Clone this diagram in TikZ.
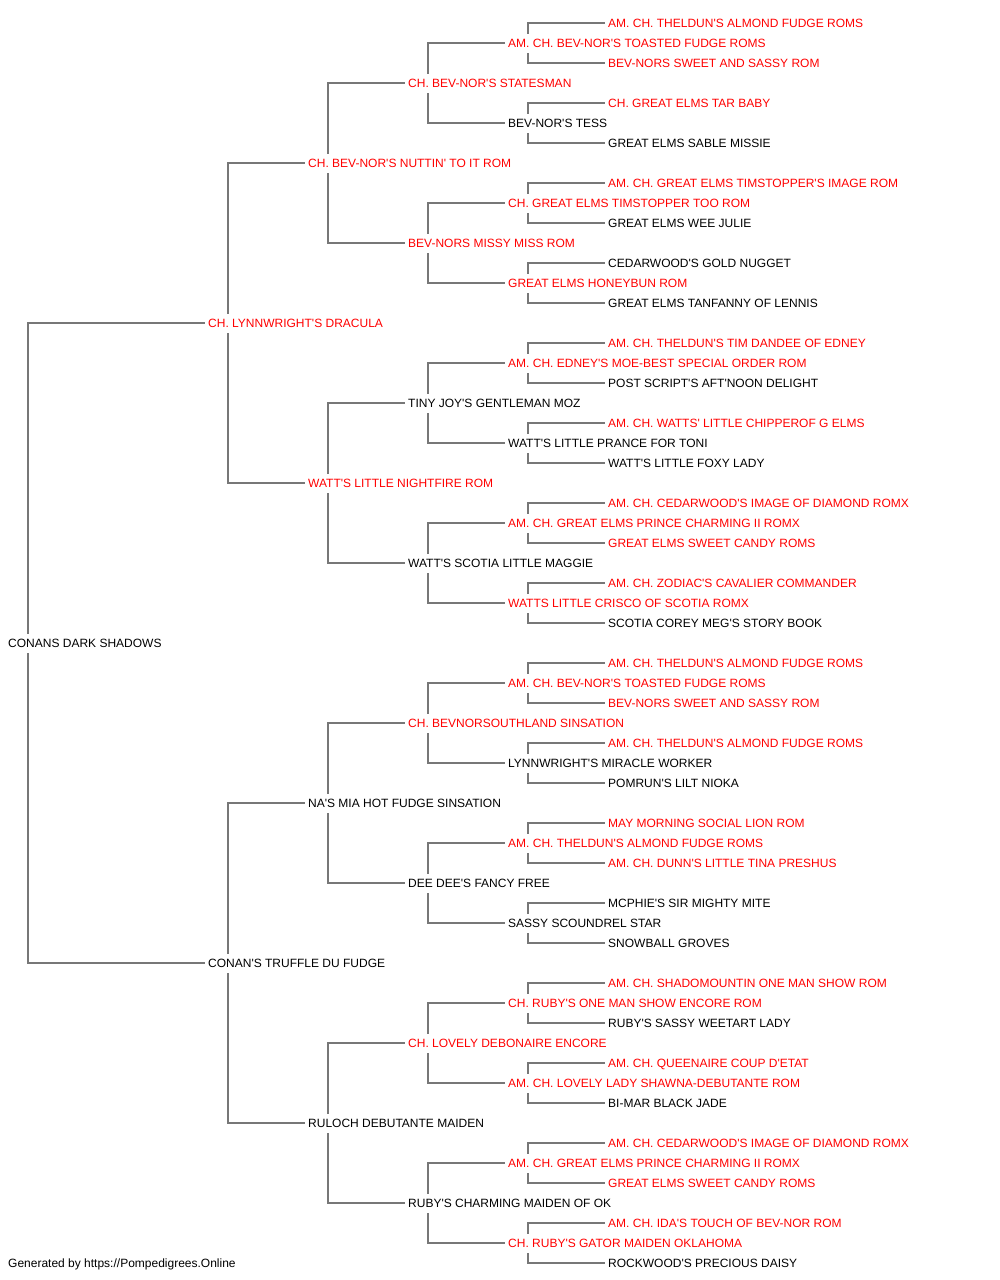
\documentclass[tikz,border=0pt]{standalone}
\usepackage{fontspec}
\newfontfamily\pedfont{Liberation Sans}
\usetikzlibrary{calc}
\usetikzlibrary{backgrounds}
\definecolor{linkgray}{HTML}{777777}

\begin{document}
\begin{tikzpicture}[x=1pt,y=-1pt,
         dog/.style = {anchor=west, fill=white, inner xsep=3pt, inner ysep=0pt,
         text height=8.6pt, text depth=0pt, minimum height=19pt,
         font=\pedfont\fontsize{12}{14}\selectfont},
         titled/.style = {dog, text=red},
         link/.style = {draw=linkgray, line width=1.8pt}
]
   \useasboundingbox (0,0) rectangle (1000,1280);

   % the dog itself
   \node[dog]    (dog) at (5,643)  {CONANS DARK SHADOWS};

   % parents
   \node[titled] (s)   at (205,323) {CH. LYNNWRIGHT'S DRACULA};
   \node[dog]    (d)   at (205,963) {CONAN'S TRUFFLE DU FUDGE};

   % grandparents
   \node[titled] (ss)  at (305,163)  {CH. BEV-NOR'S NUTTIN' TO IT ROM};
   \node[titled] (sd)  at (305,483)  {WATT'S LITTLE NIGHTFIRE ROM};
   \node[dog]    (ds)  at (305,803)  {NA'S MIA HOT FUDGE SINSATION};
   \node[dog]    (dd)  at (305,1123) {RULOCH DEBUTANTE MAIDEN};

   % great grandparents
   \node[titled] (sss) at (405,83)   {CH. BEV-NOR'S STATESMAN};
   \node[titled] (ssd) at (405,243)  {BEV-NORS MISSY MISS ROM};
   \node[dog]    (sds) at (405,403)  {TINY JOY'S GENTLEMAN MOZ};
   \node[dog]    (sdd) at (405,563)  {WATT'S SCOTIA LITTLE MAGGIE};
   \node[titled] (dss) at (405,723)  {CH. BEVNORSOUTHLAND SINSATION};
   \node[dog]    (dsd) at (405,883)  {DEE DEE'S FANCY FREE};
   \node[titled] (dds) at (405,1043) {CH. LOVELY DEBONAIRE ENCORE};
   \node[dog]    (ddd) at (405,1203) {RUBY'S CHARMING MAIDEN OF OK};

   % generation 4
   \node[titled] (ssss) at (505,43)   {AM. CH. BEV-NOR'S TOASTED FUDGE ROMS};
   \node[dog]    (sssd) at (505,123)  {BEV-NOR'S TESS};
   \node[titled] (ssds) at (505,203)  {CH. GREAT ELMS TIMSTOPPER TOO ROM};
   \node[titled] (ssdd) at (505,283)  {GREAT ELMS HONEYBUN ROM};
   \node[titled] (sdss) at (505,363)  {AM. CH. EDNEY'S MOE-BEST SPECIAL ORDER ROM};
   \node[dog]    (sdsd) at (505,443)  {WATT'S LITTLE PRANCE FOR TONI};
   \node[titled] (sdds) at (505,523)  {AM. CH. GREAT ELMS PRINCE CHARMING II ROMX};
   \node[titled] (sddd) at (505,603)  {WATTS LITTLE CRISCO OF SCOTIA ROMX};
   \node[titled] (dsss) at (505,683)  {AM. CH. BEV-NOR'S TOASTED FUDGE ROMS};
   \node[dog]    (dssd) at (505,763)  {LYNNWRIGHT'S MIRACLE WORKER};
   \node[titled] (dsds) at (505,843)  {AM. CH. THELDUN'S ALMOND FUDGE ROMS};
   \node[dog]    (dsdd) at (505,923)  {SASSY SCOUNDREL STAR};
   \node[titled] (ddss) at (505,1003) {CH. RUBY'S ONE MAN SHOW ENCORE ROM};
   \node[titled] (ddsd) at (505,1083) {AM. CH. LOVELY LADY SHAWNA-DEBUTANTE ROM};
   \node[titled] (ddds) at (505,1163) {AM. CH. GREAT ELMS PRINCE CHARMING II ROMX};
   \node[titled] (dddd) at (505,1243) {CH. RUBY'S GATOR MAIDEN OKLAHOMA};

   % generation 5
   \node[titled] (sssss) at (605,23)   {AM. CH. THELDUN'S ALMOND FUDGE ROMS};
   \node[titled] (ssssd) at (605,63)   {BEV-NORS SWEET AND SASSY ROM};
   \node[titled] (sssds) at (605,103)  {CH. GREAT ELMS TAR BABY};
   \node[dog]    (sssdd) at (605,143)  {GREAT ELMS SABLE MISSIE};
   \node[titled] (ssdss) at (605,183)  {AM. CH. GREAT ELMS TIMSTOPPER'S IMAGE ROM};
   \node[dog]    (ssdsd) at (605,223)  {GREAT ELMS WEE JULIE};
   \node[dog]    (ssdds) at (605,263)  {CEDARWOOD'S GOLD NUGGET};
   \node[dog]    (ssddd) at (605,303)  {GREAT ELMS TANFANNY OF LENNIS};
   \node[titled] (sdsss) at (605,343)  {AM. CH. THELDUN'S TIM DANDEE OF EDNEY};
   \node[dog]    (sdssd) at (605,383)  {POST SCRIPT'S AFT'NOON DELIGHT};
   \node[titled] (sdsds) at (605,423)  {AM. CH. WATTS' LITTLE CHIPPEROF G ELMS};
   \node[dog]    (sdsdd) at (605,463)  {WATT'S LITTLE FOXY LADY};
   \node[titled] (sddss) at (605,503)  {AM. CH. CEDARWOOD'S IMAGE OF DIAMOND ROMX};
   \node[titled] (sddsd) at (605,543)  {GREAT ELMS SWEET CANDY ROMS};
   \node[titled] (sddds) at (605,583)  {AM. CH. ZODIAC'S CAVALIER COMMANDER};
   \node[dog]    (sdddd) at (605,623)  {SCOTIA COREY MEG'S STORY BOOK};
   \node[titled] (dssss) at (605,663)  {AM. CH. THELDUN'S ALMOND FUDGE ROMS};
   \node[titled] (dsssd) at (605,703)  {BEV-NORS SWEET AND SASSY ROM};
   \node[titled] (dssds) at (605,743)  {AM. CH. THELDUN'S ALMOND FUDGE ROMS};
   \node[dog]    (dssdd) at (605,783)  {POMRUN'S LILT NIOKA};
   \node[titled] (dsdss) at (605,823)  {MAY MORNING SOCIAL LION ROM};
   \node[titled] (dsdsd) at (605,863)  {AM. CH. DUNN'S LITTLE TINA PRESHUS};
   \node[dog]    (dsdds) at (605,903)  {MCPHIE'S SIR MIGHTY MITE};
   \node[dog]    (dsddd) at (605,943)  {SNOWBALL GROVES};
   \node[titled] (ddsss) at (605,983)  {AM. CH. SHADOMOUNTIN ONE MAN SHOW ROM};
   \node[dog]    (ddssd) at (605,1023) {RUBY'S SASSY WEETART LADY};
   \node[titled] (ddsds) at (605,1063) {AM. CH. QUEENAIRE COUP D'ETAT};
   \node[dog]    (ddsdd) at (605,1103) {BI-MAR BLACK JADE};
   \node[titled] (dddss) at (605,1143) {AM. CH. CEDARWOOD'S IMAGE OF DIAMOND ROMX};
   \node[titled] (dddsd) at (605,1183) {GREAT ELMS SWEET CANDY ROMS};
   \node[titled] (dddds) at (605,1223) {AM. CH. IDA'S TOUCH OF BEV-NOR ROM};
   \node[dog]    (ddddd) at (605,1263) {ROCKWOOD'S PRECIOUS DAISY};

   \node[dog, fill=none] (credit) at (5,1263) {Generated by https://Pompedigrees.Online};

   % brackets sire/dam, behind the names
   \begin{pgfonlayer}{background}
      \draw[link] (s.west)   -| ($(dog.west)+(23,0)$) |- (d.west);

      \draw[link] (ss.west)  -| ($(s.west)+(23,0)$)   |- (sd.west);
      \draw[link] (ds.west)  -| ($(d.west)+(23,0)$)   |- (dd.west);

      \draw[link] (sss.west) -| ($(ss.west)+(23,0)$)  |- (ssd.west);
      \draw[link] (sds.west) -| ($(sd.west)+(23,0)$)  |- (sdd.west);
      \draw[link] (dss.west) -| ($(ds.west)+(23,0)$)  |- (dsd.west);
      \draw[link] (dds.west) -| ($(dd.west)+(23,0)$)  |- (ddd.west);

      \draw[link] (ssss.west) -| ($(sss.west)+(23,0)$) |- (sssd.west);
      \draw[link] (ssds.west) -| ($(ssd.west)+(23,0)$) |- (ssdd.west);
      \draw[link] (sdss.west) -| ($(sds.west)+(23,0)$) |- (sdsd.west);
      \draw[link] (sdds.west) -| ($(sdd.west)+(23,0)$) |- (sddd.west);
      \draw[link] (dsss.west) -| ($(dss.west)+(23,0)$) |- (dssd.west);
      \draw[link] (dsds.west) -| ($(dsd.west)+(23,0)$) |- (dsdd.west);
      \draw[link] (ddss.west) -| ($(dds.west)+(23,0)$) |- (ddsd.west);
      \draw[link] (ddds.west) -| ($(ddd.west)+(23,0)$) |- (dddd.west);

      \draw[link] (sssss.west) -| ($(ssss.west)+(23,0)$) |- (ssssd.west);
      \draw[link] (sssds.west) -| ($(sssd.west)+(23,0)$) |- (sssdd.west);
      \draw[link] (ssdss.west) -| ($(ssds.west)+(23,0)$) |- (ssdsd.west);
      \draw[link] (ssdds.west) -| ($(ssdd.west)+(23,0)$) |- (ssddd.west);
      \draw[link] (sdsss.west) -| ($(sdss.west)+(23,0)$) |- (sdssd.west);
      \draw[link] (sdsds.west) -| ($(sdsd.west)+(23,0)$) |- (sdsdd.west);
      \draw[link] (sddss.west) -| ($(sdds.west)+(23,0)$) |- (sddsd.west);
      \draw[link] (sddds.west) -| ($(sddd.west)+(23,0)$) |- (sdddd.west);
      \draw[link] (dssss.west) -| ($(dsss.west)+(23,0)$) |- (dsssd.west);
      \draw[link] (dssds.west) -| ($(dssd.west)+(23,0)$) |- (dssdd.west);
      \draw[link] (dsdss.west) -| ($(dsds.west)+(23,0)$) |- (dsdsd.west);
      \draw[link] (dsdds.west) -| ($(dsdd.west)+(23,0)$) |- (dsddd.west);
      \draw[link] (ddsss.west) -| ($(ddss.west)+(23,0)$) |- (ddssd.west);
      \draw[link] (ddsds.west) -| ($(ddsd.west)+(23,0)$) |- (ddsdd.west);
      \draw[link] (dddss.west) -| ($(ddds.west)+(23,0)$) |- (dddsd.west);
      \draw[link] (dddds.west) -| ($(dddd.west)+(23,0)$) |- (ddddd.west);
   \end{pgfonlayer}
\end{tikzpicture}
\end{document}
